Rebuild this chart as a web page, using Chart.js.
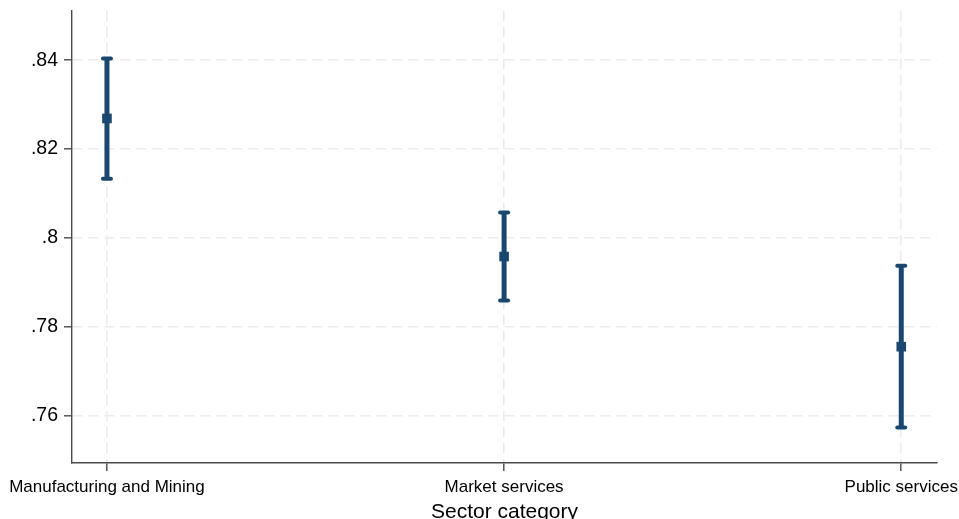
<!DOCTYPE html>
<html>
<head>
<meta charset="utf-8">
<script src="https://cdn.jsdelivr.net/npm/chart.js@4/dist/chart.umd.min.js"></script>
<style>
  html, body { margin: 0; padding: 0; background: #ffffff; }
  #wrap { width: 959px; height: 519px; }
</style>
</head>
<body>
<div id="wrap"><canvas id="c" width="959" height="519"></canvas></div>
<script>
// Sector categories and estimated effects with 95% confidence bounds
const categories = ['Manufacturing and Mining', 'Market services', 'Public services'];
const estimates = [0.8269, 0.7958, 0.7755];
const ciLower = [0.8133, 0.7859, 0.7573];
const ciUpper = [0.8404, 0.8057, 0.7937];

// Value axis ticks
const yTicks = [0.76, 0.78, 0.80, 0.82, 0.84];
const yTickLabels = ['.76', '.78', '.8', '.82', '.84'];
const yMin = 0.7493;
const yMax = 0.8511;

const navy = '#1a476f';
const axisColor = '#4a4a4a';
const gridColor = '#ebebeb';
const fontFamily = "'Liberation Sans', Arial, sans-serif";

// One line per category running from lower to upper bound, capped at both ends
const ciDatasets = categories.map((name, i) => ({
  type: 'scatter',
  label: name + ' CI',
  showLine: true,
  data: [{ x: i, y: ciLower[i] }, { x: i, y: ciUpper[i] }],
  borderColor: navy,
  borderWidth: 5,
  borderCapStyle: 'butt',
  pointStyle: 'line',
  pointRadius: 4,
  pointBorderWidth: 4,
  pointBorderColor: navy,
  pointBackgroundColor: navy,
  isCap: true,
  order: 2
}));

const pointDataset = {
  type: 'scatter',
  label: 'Estimate',
  data: estimates.map((v, i) => ({ x: i, y: v })),
  pointStyle: 'rect',
  pointRadius: 6.8,
  pointBorderWidth: 0,
  pointBackgroundColor: navy,
  pointBorderColor: navy,
  order: 0
};

// Rounded ends on the whisker caps
const roundCaps = {
  id: 'roundCaps',
  beforeDatasetDraw(chart, args) {
    if (chart.data.datasets[args.index].isCap) {
      chart.ctx.save();
      chart.ctx.lineCap = 'round';
    }
  },
  afterDatasetDraw(chart, args) {
    if (chart.data.datasets[args.index].isCap) {
      chart.ctx.restore();
    }
  }
};

new Chart(document.getElementById('c'), {
  type: 'scatter',
  data: { datasets: [...ciDatasets, pointDataset] },
  plugins: [roundCaps],
  options: {
    responsive: false,
    animation: false,
    events: [],
    layout: { padding: { left: 0, right: 22, top: 11, bottom: 0 } },
    plugins: {
      legend: { display: false },
      tooltip: { enabled: false }
    },
    scales: {
      x: {
        type: 'linear',
        min: -0.088,
        max: 2.09,
        afterBuildTicks(scale) {
          scale.ticks = categories.map((_, i) => ({ value: i }));
        },
        afterFit(scale) {
          scale.height = 56;
          scale.paddingLeft = 0;
          scale.paddingRight = 0;
        },
        ticks: {
          autoSkip: false,
          maxRotation: 0,
          padding: 6,
          color: '#000000',
          font: { family: fontFamily, size: 17 },
          callback: (v) => categories[v]
        },
        grid: {
          color: gridColor,
          lineWidth: 1.6,
          tickColor: axisColor,
          tickLength: 8,
          tickWidth: 1.4
        },
        border: { display: true, color: axisColor, width: 1.4, dash: [10, 6] },
        title: {
          display: true,
          text: 'Sector category',
          color: '#000000',
          font: { family: fontFamily, size: 21, lineHeight: 1 },
          padding: { top: 0, bottom: -4 }
        }
      },
      y: {
        type: 'linear',
        min: yMin,
        max: yMax,
        afterBuildTicks(scale) {
          scale.ticks = yTicks.map(v => ({ value: v }));
        },
        afterFit(scale) {
          scale.width = 72;
          scale.paddingTop = 0;
          scale.paddingBottom = 0;
        },
        ticks: {
          padding: 6,
          color: '#000000',
          font: { family: fontFamily, size: 19.5 },
          callback: (v) => {
            const idx = yTicks.findIndex(t => Math.abs(t - v) < 1e-9);
            return idx >= 0 ? yTickLabels[idx] : '';
          }
        },
        grid: {
          color: gridColor,
          lineWidth: 1.6,
          tickColor: axisColor,
          tickLength: 8,
          tickWidth: 1.4
        },
        border: { display: true, color: axisColor, width: 1.4, dash: [10, 6] }
      }
    }
  }
});
</script>
</body>
</html>
